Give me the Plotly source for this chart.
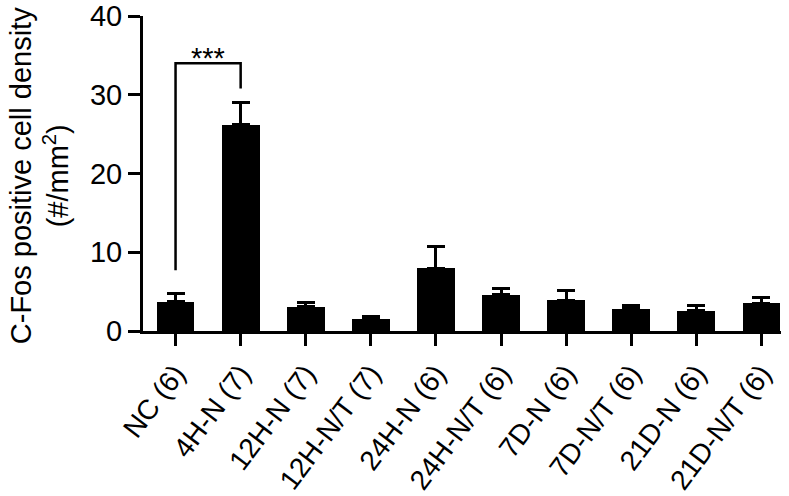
import plotly.graph_objects as go

groups = ["NC (6)", "4H-N (7)", "12H-N (7)", "12H-N/T (7)", "24H-N (6)",
          "24H-N/T (6)", "7D-N (6)", "7D-N/T (6)", "21D-N (6)", "21D-N/T (6)"]
means = [3.7, 26.2, 3.1, 1.5, 8.0, 4.6, 3.9, 2.8, 2.6, 3.5]
sem = [1.0, 2.8, 0.5, 0.4, 2.7, 0.8, 1.3, 0.5, 0.7, 0.8]
y_ticks = [0, 10, 20, 30, 40]

_FONT = "Liberation Sans, Arial, Helvetica, sans-serif"
_BLACK = "#000000"
_FS = 29

fig = go.Figure(go.Bar(
    x=list(range(len(groups))), y=means,
    width=0.58,
    marker=dict(color=_BLACK, line=dict(width=0)),
    error_y=dict(type="data", symmetric=False, array=sem,
                 arrayminus=[0] * len(sem),
                 color=_BLACK, thickness=3, width=9),
))

# significance bracket NC vs 4H-N
fig.add_shape(type="path", xref="x", yref="y",
              path="M 0,7.7 L 0,34.0 L 1,34.0 L 1,30.8",
              line=dict(color=_BLACK, width=2.5))
fig.add_annotation(x=0.5, y=32.4, xref="x", yref="y", text="***",
                   showarrow=False, yanchor="bottom",
                   font=dict(size=_FS, color=_BLACK, family=_FONT))

# y axis title (two lines)
fig.add_annotation(x=-0.159, y=0.493, xref="paper", yref="paper",
                   text="C-Fos positive cell density<br>(#/mm<sup>2</sup>)",
                   textangle=-90, showarrow=False,
                   xanchor="center", yanchor="middle",
                   font=dict(size=_FS, color=_BLACK, family=_FONT))

fig.update_layout(
    width=789, height=496,
    paper_bgcolor="white", plot_bgcolor="white",
    margin=dict(l=135, r=3, t=16, b=165),
    font=dict(family=_FONT, color=_BLACK, size=_FS),
    showlegend=False,
    bargap=0,
)
fig.update_xaxes(
    range=[-0.5, 9.5], tickmode="array",
    tickvals=list(range(len(groups))), ticktext=groups,
    tickangle=-53, ticks="outside", ticklen=12, tickwidth=3,
    tickcolor=_BLACK, showline=True, linecolor=_BLACK, linewidth=3,
    showgrid=False, zeroline=False, tickfont=dict(size=28),
    automargin=False,
)
fig.update_yaxes(
    range=[0, 40], tickmode="array", tickvals=y_ticks,
    ticks="outside", ticklen=12, tickwidth=3, tickcolor=_BLACK,
    showline=True, linecolor=_BLACK, linewidth=3,
    showgrid=False, zeroline=False, tickfont=dict(size=_FS),
    automargin=False, ticklabeloverflow="allow",
)

# drop only the browser's default top margin (the left one lines up already)
fig.write_html("out.html", config={"displayModeBar": False},
               post_script="document.body.style.marginTop='0';")
